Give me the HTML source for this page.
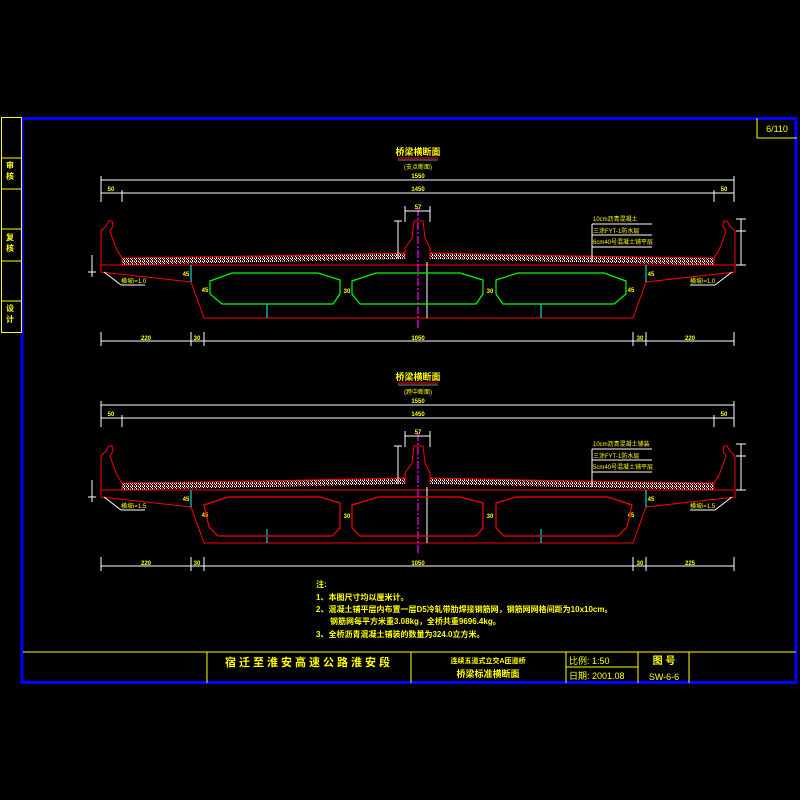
<!DOCTYPE html>
<html><head><meta charset="utf-8"><style>
html,body{margin:0;padding:0;background:#000;}
svg{display:block;}
text{font-family:"Liberation Sans","Noto Sans CJK SC",sans-serif;fill:#ff0;}
</style></head><body>
<svg width="800" height="800" viewBox="0 0 800 800" xmlns="http://www.w3.org/2000/svg">
<defs>
<pattern id="h" width="4" height="3" patternUnits="userSpaceOnUse">
<rect width="4" height="3" fill="#000"/>
<rect x="0" y="0" width="1" height="1" fill="#fff"/><rect x="2" y="0" width="1" height="1" fill="#fff"/>
<rect x="1" y="1" width="1" height="1" fill="#f00"/><rect x="3" y="1" width="1" height="1" fill="#fff"/>
<rect x="0" y="2" width="1" height="1" fill="#fff"/><rect x="2" y="2" width="1" height="1" fill="#f00"/>
</pattern>
<g id="sec">
 <polygon points="122,258 405,253 405,259 122,265" fill="url(#h)"/>
 <polygon points="430,253 714,258 714,265 430,259" fill="url(#h)"/>
 <g fill="none" stroke="#f00" stroke-width="1">
  <polyline points="122,258 260,256 405,253"/>
  <polyline points="430,253 576,256 714,258"/>
  <line x1="101" y1="265" x2="734" y2="265"/>
  <polyline points="101,265 101,231 106,226 109,221 112,221 113,226 110,231 113,240 117,250 122,258 122,265"/>
  <polyline points="735,265 735,231 730,226 727,221 724,221 723,226 726,231 723,240 719,250 714,258 714,265"/>
  <polyline points="405,259 405,248 412,238 414,221 423,221 425,238 430,248 430,259"/>
  <polyline points="101,265 101,272 191,282 204,318 633,318 646,282 735,272 735,265"/>
 </g>
 <line x1="418" y1="208" x2="418" y2="330" stroke="#f0f" stroke-width="1.2" stroke-dasharray="8,2,2,2"/>
 <g stroke="#fff" stroke-width="1" fill="none">
  <line x1="101" y1="180" x2="734" y2="180"/>
  <line x1="101" y1="193" x2="734" y2="193"/>
  <line x1="101" y1="176" x2="101" y2="202"/><line x1="734" y1="176" x2="734" y2="202"/>
  <line x1="122" y1="190" x2="122" y2="202"/><line x1="714" y1="190" x2="714" y2="202"/>
  <line x1="101" y1="341" x2="734" y2="341"/>
  <line x1="101" y1="332" x2="101" y2="346"/><line x1="191" y1="332" x2="191" y2="346"/>
  <line x1="204" y1="332" x2="204" y2="346"/><line x1="633" y1="332" x2="633" y2="346"/>
  <line x1="646" y1="332" x2="646" y2="346"/><line x1="734" y1="332" x2="734" y2="346"/>
  <line x1="405" y1="211" x2="430" y2="211"/><line x1="405" y1="206" x2="405" y2="222"/><line x1="430" y1="206" x2="430" y2="222"/>
  <line x1="398" y1="221" x2="398" y2="259"/><line x1="394" y1="221" x2="402" y2="221"/>
  <line x1="427" y1="262" x2="427" y2="318"/>
  <line x1="741" y1="219" x2="741" y2="265"/>
  <line x1="736" y1="219" x2="746" y2="219"/><line x1="736" y1="231" x2="746" y2="231"/><line x1="736" y1="265" x2="746" y2="265"/>
  <line x1="92" y1="255" x2="92" y2="277"/><line x1="88" y1="272" x2="96" y2="272"/>
  <line x1="592" y1="224" x2="652" y2="224"/><line x1="592" y1="235" x2="652" y2="235"/><line x1="592" y1="247" x2="652" y2="247"/>
  <line x1="592" y1="224" x2="592" y2="262"/>
  <line x1="104" y1="272" x2="121" y2="285"/><line x1="121" y1="285" x2="145" y2="285"/>
  <line x1="732" y1="272" x2="715" y2="285"/><line x1="715" y1="285" x2="690" y2="285"/>
 </g>
 <g stroke="#0ff" stroke-width="1">
  <line x1="191" y1="265" x2="191" y2="282"/><line x1="646" y1="265" x2="646" y2="282"/>
  <line x1="267" y1="304" x2="267" y2="318"/><line x1="541" y1="304" x2="541" y2="318"/>
 </g>
 <g font-size="6" font-weight="bold" text-anchor="middle">
  <text x="418" y="178">1550</text>
  <text x="111" y="191">50</text><text x="418" y="191">1450</text><text x="724" y="191">50</text>
  <text x="418" y="209">57</text>
  <text x="418" y="340">1050</text><text x="197" y="340">30</text><text x="640" y="340">30</text>
  <text x="347" y="293">30</text><text x="490" y="293">30</text>
  <text x="205" y="292">45</text><text x="631" y="292">45</text>
  <text x="186" y="276">45</text><text x="651" y="276">45</text>
 </g>
</g>
</defs>

<rect x="22" y="118.5" width="774" height="564" fill="none" stroke="#00f" stroke-width="3"/>
<g stroke="#ff0" stroke-width="1" fill="none">
 <rect x="1.5" y="117.5" width="20" height="215"/>
 <line x1="1" y1="158" x2="21" y2="158"/><line x1="1" y1="189" x2="21" y2="189"/>
 <line x1="1" y1="229" x2="21" y2="229"/><line x1="1" y1="261" x2="21" y2="261"/>
 <line x1="1" y1="301" x2="21" y2="301"/>
 <polyline points="757,118 757,138 797,138"/>
 <line x1="23" y1="652" x2="796" y2="652"/>
 <line x1="207" y1="652" x2="207" y2="683"/><line x1="411" y1="652" x2="411" y2="683"/>
 <line x1="566" y1="652" x2="566" y2="683"/><line x1="638" y1="652" x2="638" y2="683"/>
 <line x1="689" y1="652" x2="689" y2="683"/><line x1="566" y1="667" x2="638" y2="667"/>
</g>
<g font-size="8" font-weight="bold">
 <text x="6" y="168">审</text><text x="6" y="179">核</text>
 <text x="6" y="240">复</text><text x="6" y="251">核</text>
 <text x="6" y="311">设</text><text x="6" y="322">计</text>
</g>
<text x="777" y="132" font-size="9" text-anchor="middle">6/110</text>

<use href="#sec"/>
<text x="418" y="155" font-size="9" font-weight="bold" text-anchor="middle">桥梁横断面</text>
<line x1="398" y1="158" x2="438" y2="158" stroke="#f00" stroke-width="1"/>
<line x1="398" y1="160" x2="438" y2="160" stroke="#fff" stroke-width="0.6"/>
<text x="418" y="169" font-size="6" text-anchor="middle">(支点断面)</text>
<g fill="none" stroke="#0f0" stroke-width="1.2">
 <polygon points="210,281 232,273 318,273 340,280 340,294 333,304 222,304 210,294"/>
 <polygon points="352,281 376,273 460,273 483,280 483,294 476,304 360,304 352,294"/>
 <polygon points="626,281 604,273 518,273 496,280 496,294 503,304 614,304 626,294"/>
</g>
<g font-size="6">
 <text x="593" y="221" fill="#fff">10cm沥青混凝土</text>
 <text x="593" y="233" fill="#fff">三涂FYT-1防水层</text>
 <text x="593" y="244" fill="#fff">6cm40号混凝土铺平层</text>
 <text x="121" y="283" fill="#fff">横坡i=1.0</text>
 <text x="690" y="283" fill="#fff">横坡i=1.0</text>
 <text x="146" y="340" text-anchor="middle" font-weight="bold">220</text><text x="690" y="340" text-anchor="middle" font-weight="bold">220</text>
</g>

<use href="#sec" transform="translate(0,225)"/>
<text x="418" y="380" font-size="9" font-weight="bold" text-anchor="middle">桥梁横断面</text>
<line x1="398" y1="383" x2="438" y2="383" stroke="#f00" stroke-width="1"/>
<line x1="398" y1="385" x2="438" y2="385" stroke="#fff" stroke-width="0.6"/>
<text x="418" y="394" font-size="6" text-anchor="middle">(跨中断面)</text>
<g fill="none" stroke="#f00" stroke-width="1.2">
 <polygon points="204,505 228,497 320,497 340,503 340,528 332,536 218,536 209,527"/>
 <polygon points="352,505 378,497 460,497 483,503 483,528 476,536 360,536 352,528"/>
 <polygon points="632,505 608,497 516,497 496,503 496,528 504,536 618,536 627,527"/>
</g>
<g font-size="6">
 <text x="593" y="446" fill="#fff">10cm沥青混凝土铺装</text>
 <text x="593" y="458" fill="#fff">三涂FYT-1防水层</text>
 <text x="593" y="469" fill="#fff">5cm40号混凝土铺平层</text>
 <text x="121" y="508" fill="#fff">横坡i=1.5</text>
 <text x="690" y="508" fill="#fff">横坡i=1.5</text>
 <text x="146" y="565" text-anchor="middle" font-weight="bold">220</text><text x="690" y="565" text-anchor="middle" font-weight="bold">225</text>
</g>

<g font-size="8" font-weight="bold">
 <text x="316" y="587">注:</text>
 <text x="316" y="600">1、本图尺寸均以厘米计。</text>
 <text x="316" y="612">2、混凝土铺平层内布置一层D5冷轧带肋焊接钢筋网，钢筋网网格间距为10x10cm。</text>
 <text x="330" y="624">钢筋网每平方米重3.08kg，全桥共重9696.4kg。</text>
 <text x="316" y="637">3、全桥沥青混凝土铺装的数量为324.0立方米。</text>
</g>
<text x="309" y="666" font-size="11" font-weight="bold" text-anchor="middle" letter-spacing="3">宿迁至淮安高速公路淮安段</text>
<text x="488" y="663" font-size="7" font-weight="bold" text-anchor="middle">连续五道式立交A匝道桥</text>
<text x="488" y="677" font-size="9" font-weight="bold" text-anchor="middle">桥梁标准横断面</text>
<text x="569" y="664" font-size="9">比例: 1:50</text>
<text x="569" y="679" font-size="9">日期: 2001.08</text>
<text x="664" y="664" font-size="10" font-weight="bold" text-anchor="middle">图 号</text>
<text x="664" y="680" font-size="9" text-anchor="middle">SW-6-6</text>
</svg>
</body></html>
